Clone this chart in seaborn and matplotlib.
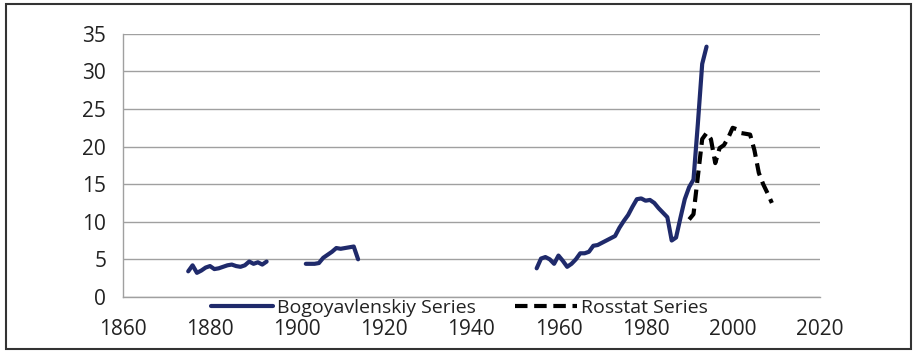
import matplotlib
matplotlib.use("Agg")
import matplotlib.pyplot as plt
import seaborn as sns
import pandas as pd
from matplotlib.lines import Line2D
from matplotlib.patches import Rectangle

# Bogoyavlenskiy series (three separate stretches of years)
bog_years_1 = [1875, 1876, 1877, 1878, 1879, 1880, 1881, 1882, 1883, 1884,
               1885, 1886, 1887, 1888, 1889, 1890, 1891, 1892, 1893]
bog_vals_1 = [3.4, 4.2, 3.2, 3.5, 3.9, 4.1, 3.7, 3.8, 4.0, 4.2,
              4.3, 4.1, 4.0, 4.2, 4.7, 4.4, 4.6, 4.3, 4.7]

bog_years_2 = [1902, 1903, 1904, 1905, 1906, 1907, 1908, 1909, 1910, 1911,
               1912, 1913, 1914]
bog_vals_2 = [4.4, 4.4, 4.4, 4.5, 5.2, 5.6, 6.0, 6.5, 6.4, 6.5,
              6.6, 6.7, 5.0]

bog_years_3 = list(range(1955, 1995))
bog_vals_3 = [3.8, 5.1, 5.3, 5.0, 4.4, 5.5, 4.8, 4.0, 4.4, 5.0,
              5.8, 5.8, 6.0, 6.8, 6.9, 7.2, 7.5, 7.8, 8.1, 9.2,
              10.1, 10.9, 12.0, 13.0, 13.1, 12.8, 12.9, 12.5, 11.8, 11.2,
              10.6, 7.5, 7.9, 10.5, 13.0, 14.6, 15.6, 23.0, 31.0, 33.3]

# Rosstat series
ros_years = list(range(1990, 2010))
ros_vals = [10.3, 11.0, 16.0, 21.0, 21.8, 21.0, 17.8, 19.8, 20.2, 21.2,
            22.5, 22.3, 21.8, 21.7, 21.6, 19.5, 16.5, 15.0, 13.8, 12.5]

series_labels = ["Bogoyavlenskiy Series", "Rosstat Series"]
x_ticks = [1860, 1880, 1900, 1920, 1940, 1960, 1980, 2000, 2020]
y_ticks = [0, 5, 10, 15, 20, 25, 30, 35]

bog = pd.concat([
    pd.DataFrame({"year": bog_years_1, "value": bog_vals_1, "seg": 1}),
    pd.DataFrame({"year": bog_years_2, "value": bog_vals_2, "seg": 2}),
    pd.DataFrame({"year": bog_years_3, "value": bog_vals_3, "seg": 3}),
])
ros = pd.DataFrame({"year": ros_years, "value": ros_vals, "seg": 1})

sns.set_style("white")
plt.rcParams["font.family"] = ["Open Sans", "DejaVu Sans"]

navy = "#1f2a6b"
dash = [3, 1.6]

fig = plt.figure(figsize=(9.17, 3.53), dpi=100)
ax = fig.add_axes([0.134, 0.159, 0.760, 0.745])

sns.lineplot(data=bog, x="year", y="value", units="seg", estimator=None,
             color=navy, linewidth=3, ax=ax, legend=False)
sns.lineplot(data=ros, x="year", y="value", units="seg", estimator=None,
             color="black", linewidth=3, ax=ax, legend=False)
ax.lines[-1].set_dashes(dash)

ax.set_xlim(1860, 2020)
ax.set_ylim(0, 35)
ax.set_xticks(x_ticks)
ax.set_yticks(y_ticks)
ax.set_xlabel("")
ax.set_ylabel("")
ax.yaxis.grid(True, color="#a0a0a0", linewidth=1)
ax.set_axisbelow(True)
for s in ["top", "right"]:
    ax.spines[s].set_visible(False)
for s in ["left", "bottom"]:
    ax.spines[s].set_color("#a0a0a0")
    ax.spines[s].set_linewidth(1)
ax.tick_params(axis="both", direction="out", length=6, width=1, color="#a0a0a0",
               labelsize=15, labelcolor="#222222")
ax.tick_params(axis="x", pad=10)
ax.tick_params(axis="y", pad=6)

handles = [Line2D([], [], color=navy, linewidth=3),
           Line2D([], [], color="black", linewidth=3, dashes=dash)]
leg = fig.legend(handles, series_labels, loc="center left",
                 bbox_to_anchor=(211 / 917, 1 - 308 / 353), ncol=2,
                 frameon=False, fontsize=14, handlelength=3.2,
                 handletextpad=0.2, columnspacing=2.0, borderpad=0,
                 borderaxespad=0)
for t in leg.get_texts():
    t.set_color("#222222")

fig.patches.append(Rectangle((0.006, 0.012), 0.988, 0.976, transform=fig.transFigure,
                             fill=False, edgecolor="#333333", linewidth=1.5))

fig.savefig("out.png", dpi=100)
